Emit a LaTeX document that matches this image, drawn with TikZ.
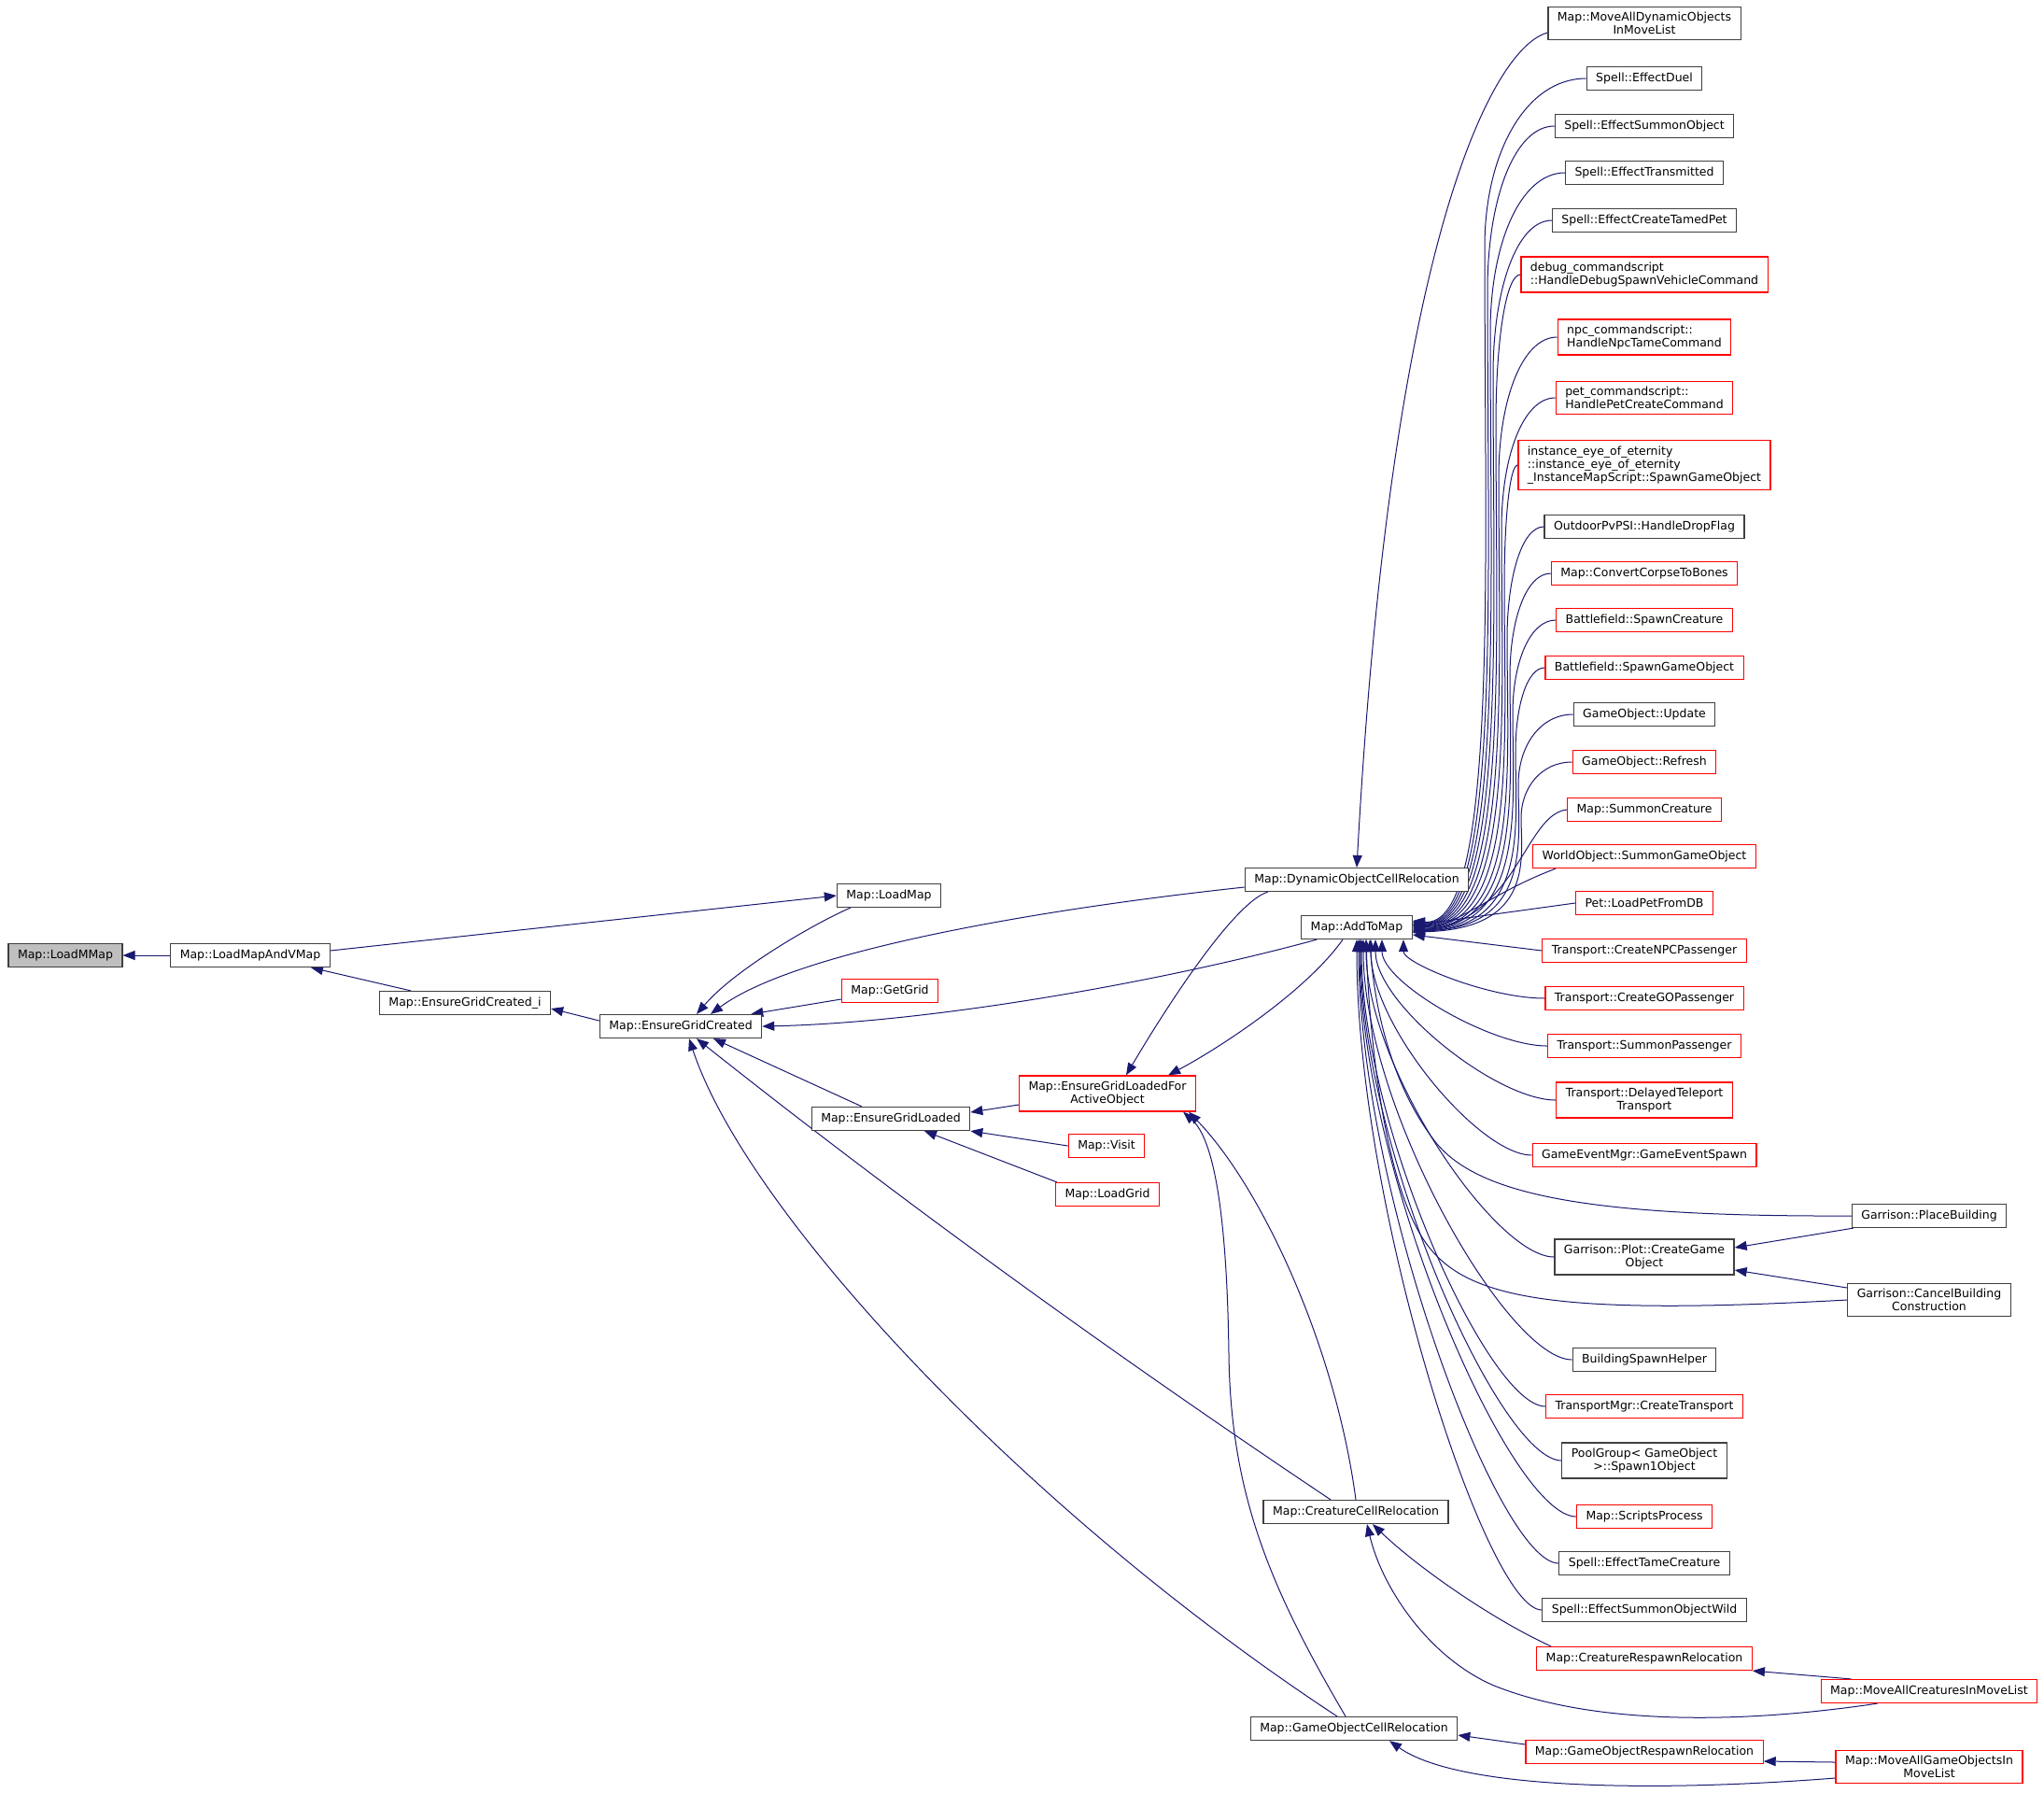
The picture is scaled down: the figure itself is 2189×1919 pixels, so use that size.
\documentclass[tikz,border=0pt]{standalone}
\usepackage{fontspec}
\newfontfamily\dxfont{DejaVu Sans}
\usepackage{tikz}
\usetikzlibrary{calc,arrows.meta}
\pgfdeclarelayer{edges}
\pgfsetlayers{edges,main}
\definecolor{edgeblue}{HTML}{191970}
\definecolor{boxgray}{HTML}{404040}
\definecolor{boxred}{HTML}{FF0000}
\definecolor{rootfill}{HTML}{BFBFBF}

\begin{document}
\begin{tikzpicture}[x=0.5pt, y=-0.5pt,
    fn/.style={draw=boxgray, line width=0.6pt, fill=white, inner xsep=5pt, inner ysep=3pt,
        minimum height=12.5pt, align=center, font=\dxfont\fontsize{6.25}{7}\selectfont},
    fnred/.style={fn, draw=boxred},
    edge/.style={draw=edgeblue, line width=0.5pt, -{Triangle[length=6.5pt,width=5pt]}}]
                \useasboundingbox (0,0) rectangle (2189,1919);

                % left part
                \node[fn, fill=rootfill] (lmm) at (70,1023) {Map::LoadMMap};
                \node[fn] (lmv) at (268,1023) {Map::LoadMapAndVMap};
                \node[fn] (egci) at (498,1074) {Map::EnsureGridCreated\_i};
                \node[fn] (egc) at (729,1099) {Map::EnsureGridCreated};
                \node[fn] (lm) at (952,959) {Map::LoadMap};
                \node[fnred] (gg) at (953,1061) {Map::GetGrid};
                \node[fn] (egl) at (954,1198) {Map::EnsureGridLoaded};
                \node[fnred] (egla) at (1186,1171) {Map::EnsureGridLoadedFor\\ActiveObject};
                \node[fnred] (vis) at (1185,1227) {Map::Visit};
                \node[fnred] (lg) at (1186,1279) {Map::LoadGrid};

                % middle column
                \node[fn] (docr) at (1453,942) {Map::DynamicObjectCellRelocation};
                \node[fn] (atm) at (1453,993) {Map::AddToMap};
                \node[fn] (ccr) at (1452,1619) {Map::CreatureCellRelocation};
                \node[fn] (gocr) at (1450,1851) {Map::GameObjectCellRelocation};

                % callers of AddToMap
                \node[fn] (mado) at (1761,25) {Map::MoveAllDynamicObjects\\InMoveList};
                \node[fn] (sed) at (1761,84) {Spell::EffectDuel};
                \node[fn] (sso) at (1761,135) {Spell::EffectSummonObject};
                \node[fn] (str) at (1761,185) {Spell::EffectTransmitted};
                \node[fn] (sct) at (1761,236) {Spell::EffectCreateTamedPet};
                \node[fnred, align=left] (dbg) at (1761,294) {debug\_commandscript\\::HandleDebugSpawnVehicleCommand};
                \node[fnred, align=left] (npc) at (1761,361) {npc\_commandscript::\\HandleNpcTameCommand};
                \node[fnred, align=left] (pet) at (1761,426) {pet\_commandscript::\\HandlePetCreateCommand};
                \node[fnred, align=left] (iee) at (1761,498) {instance\_eye\_of\_eternity\\::instance\_eye\_of\_eternity\\\_InstanceMapScript::SpawnGameObject};
                \node[fn] (opv) at (1761,564) {OutdoorPvPSI::HandleDropFlag};
                \node[fnred] (ccb) at (1761,614) {Map::ConvertCorpseToBones};
                \node[fnred] (bsc) at (1761,664) {Battlefield::SpawnCreature};
                \node[fnred] (bsg) at (1761,715) {Battlefield::SpawnGameObject};
                \node[fn] (gou) at (1761,765) {GameObject::Update};
                \node[fnred] (gor) at (1761,816) {GameObject::Refresh};
                \node[fnred] (msc) at (1761,867) {Map::SummonCreature};
                \node[fnred] (wsg) at (1761,917) {WorldObject::SummonGameObject};
                \node[fnred] (plf) at (1761,967) {Pet::LoadPetFromDB};
                \node[fnred] (tnp) at (1761,1018) {Transport::CreateNPCPassenger};
                \node[fnred] (tgo) at (1761,1069) {Transport::CreateGOPassenger};
                \node[fnred] (tsp) at (1761,1120) {Transport::SummonPassenger};
                \node[fnred] (tdt) at (1761,1178) {Transport::DelayedTeleport\\Transport};
                \node[fnred] (ges) at (1761,1237) {GameEventMgr::GameEventSpawn};
                \node[fn] (gpc) at (1761,1346) {Garrison::Plot::CreateGame\\Object};
                \node[fn] (bsh) at (1761,1456) {BuildingSpawnHelper};
                \node[fnred] (tmc) at (1761,1506) {TransportMgr::CreateTransport};
                \node[fn] (pgs) at (1761,1564) {PoolGroup< GameObject\\ >::Spawn1Object};
                \node[fnred] (msp) at (1761,1624) {Map::ScriptsProcess};
                \node[fn] (stc) at (1761,1674) {Spell::EffectTameCreature};
                \node[fn] (sow) at (1761,1724) {Spell::EffectSummonObjectWild};
                \node[fnred] (crr) at (1761,1776) {Map::CreatureRespawnRelocation};
                \node[fnred] (gorr) at (1761,1876) {Map::GameObjectRespawnRelocation};

                % far right
                \node[fn] (pb) at (2066,1302) {Garrison::PlaceBuilding};
                \node[fn] (cbc) at (2066,1392) {Garrison::CancelBuilding\\Construction};
                \node[fnred] (macm) at (2066,1811) {Map::MoveAllCreaturesInMoveList};
                \node[fnred] (mago) at (2066,1892) {Map::MoveAllGameObjectsIn\\MoveList};

                \begin{pgfonlayer}{edges}
                % edges on the left
                \draw[edge] (lmv.west) -- (lmm.east);
                \draw[edge] ($(lmv.east)+(0,-5)$) -- (lm.west);
                \draw[edge] ($(egci.north)+(-58,0)$) -- ($(lmv.south)+(65,0)$);
                \draw[edge] ($(egc.west)+(0,-6)$) -- ($(egci.east)+(0,6)$);
                \draw[edge] ($(lm.south west)+(15,0)$) .. controls (880,985) and (790,1035) .. ($(egc.north)+(17,0)$);
                \draw[edge] ($(docr.west)+(0,8)$) .. controls (1100,975) and (850,1020) .. ($(egc.north)+(32,0)$);
                \draw[edge] ($(gg.west)+(0,9)$) -- ($(egc.north east)+(-12,0)$);
                \draw[edge] ($(atm.south west)+(17,0)$) .. controls (1250,1050) and (1000,1095) .. (egc.east);
                \draw[edge] ($(egl.north)+(-31,0)$) -- ($(egc.south)+(35,0)$);
                \draw[edge] ($(ccr.north)+(-27,0)$) .. controls (1192,1450) and (965,1286) .. ($(egc.south)+(17,0)$);
                \draw[edge] ($(gocr.north)+(-18,0)$) .. controls (1100,1620) and (800,1300) .. ($(egc.south)+(9,0)$);

                % edges round EnsureGridLoaded
                \draw[edge] ($(egla.west)+(0,12)$) -- ($(egl.east)+(0,-7)$);
                \draw[edge] (vis.west) -- (egl.south east);
                \draw[edge] ($(lg.north west)+(2,0)$) -- ($(egl.south)+(36,0)$);
                \draw[edge] ($(docr.south west)+(25,0)$) .. controls (1325,965) and (1260,1060) .. ($(egla.north)+(20,0)$);
                \draw[edge] ($(atm.south)+(-15,0)$) .. controls (1400,1060) and (1310,1120) .. ($(egla.north east)+(-30,0)$);
                \draw[edge] (ccr.north) .. controls (1430,1440) and (1350,1270) .. ($(egla.south east)+(-8,0)$);
                \draw[edge] ($(gocr.north)+(-9,0)$) .. controls (1360,1700) and (1318,1600) .. (1316,1450)
                    .. controls (1314,1300) and (1300,1220) .. ($(egla.south east)+(-14,0)$);
                \draw[edge] ($(mado.west)+(0,10)$) .. controls (1600,50) and (1490,250) .. (docr.north);

                % fan into AddToMap from above
                \foreach \n/\y/\xv/\r/\e in {sed/84/1590/180/-7, sso/135/1593/175/-6, str/185/1596/170/-5,
                    sct/236/1599/165/-4, dbg/294/1602/160/-3, npc/361/1605/150/-2, pet/426/1608/140/-1,
                    iee/498/1611/130/0, opv/564/1614/120/1, ccb/614/1617/110/2, bsc/664/1620/100/3,
                    bsg/715/1623/90/4, gou/765/1626/75/4, gor/816/1629/60/5} {
                    \draw[edge] (\n.west) .. controls ($(\n.west)!0.6!(\xv,\y)$) and (\xv,\y+0.45*\r) .. (\xv,\y+\r)
                        .. controls (\xv,{(\y+\r+960)/2}) and (\xv+15,995) .. ($(atm.east)+(0,\e)$);
                }
                \draw[edge] (msc.west) .. controls ($(msc.west)+(-45,5)$) and (1625,985) .. ($(atm.east)+(0,5)$);
                \draw[edge] ($(wsg.south west)+(25,0)$) .. controls (1600,955) and (1570,985) .. ($(atm.east)+(0,6)$);
                \draw[edge] (plf.west) -- ($(atm.east)+(0,-2)$);
                \draw[edge] (tnp.west) -- ($(atm.east)+(0,8)$);

                % fan into AddToMap from below
                \foreach \n/\ex in {tgo/50, tsp/27, tdt/20, ges/15, gpc/10, bsh/7, tmc/5, pgs/4, msp/3, stc/2, sow/0} {
                    \draw[edge] (\n.west) .. controls ($(\n.west)!0.3!(atm.south |- \n.west)$)
                        and ($(atm.south)!0.4!(atm.south |- \n.west)+(\ex,0)$) .. ($(atm.south)+(\ex,0)$);
                }

                % garrison
                \draw[edge] (pb.west) .. controls (1700,1303) and (1580,1280) .. (1535,1220)
                    .. controls (1490,1160) and (1472,1080) .. ($(atm.south)+(14,0)$);
                \draw[edge] (cbc.west) .. controls (1650,1410) and (1560,1390) .. (1520,1320)
                    .. controls (1480,1250) and (1466,1100) .. ($(atm.south)+(10,0)$);
                \draw[edge] ($(pb.south west)+(2,0)$) -- ($(gpc.east)+(0,-10)$);
                \draw[edge] ($(cbc.west)+(0,-13)$) -- ($(gpc.east)+(0,14)$);

                % creature relocation
                \draw[edge] ($(crr.north west)+(16,0)$) .. controls (1600,1735) and (1520,1680) .. ($(ccr.south)+(18,0)$);
                \draw[edge] ($(macm.north west)+(33,0)$) -- (crr.south east);
                \draw[edge] ($(macm.south west)+(61,0)$) .. controls (1850,1848) and (1700,1845) .. (1600,1805)
                    .. controls (1530,1775) and (1480,1700) .. ($(ccr.south)+(12,0)$);

                % game object relocation
                \draw[edge] ($(gorr.west)+(0,-8)$) -- ($(gocr.east)+(0,7)$);
                \draw[edge] ($(mago.west)+(0,-5)$) -- ($(gorr.east)+(0,10)$);
                \draw[edge] ($(mago.west)+(0,12)$) .. controls (1760,1920) and (1560,1915) .. ($(gocr.south)+(38,0)$);
                \end{pgfonlayer}
\end{tikzpicture}
\end{document}
